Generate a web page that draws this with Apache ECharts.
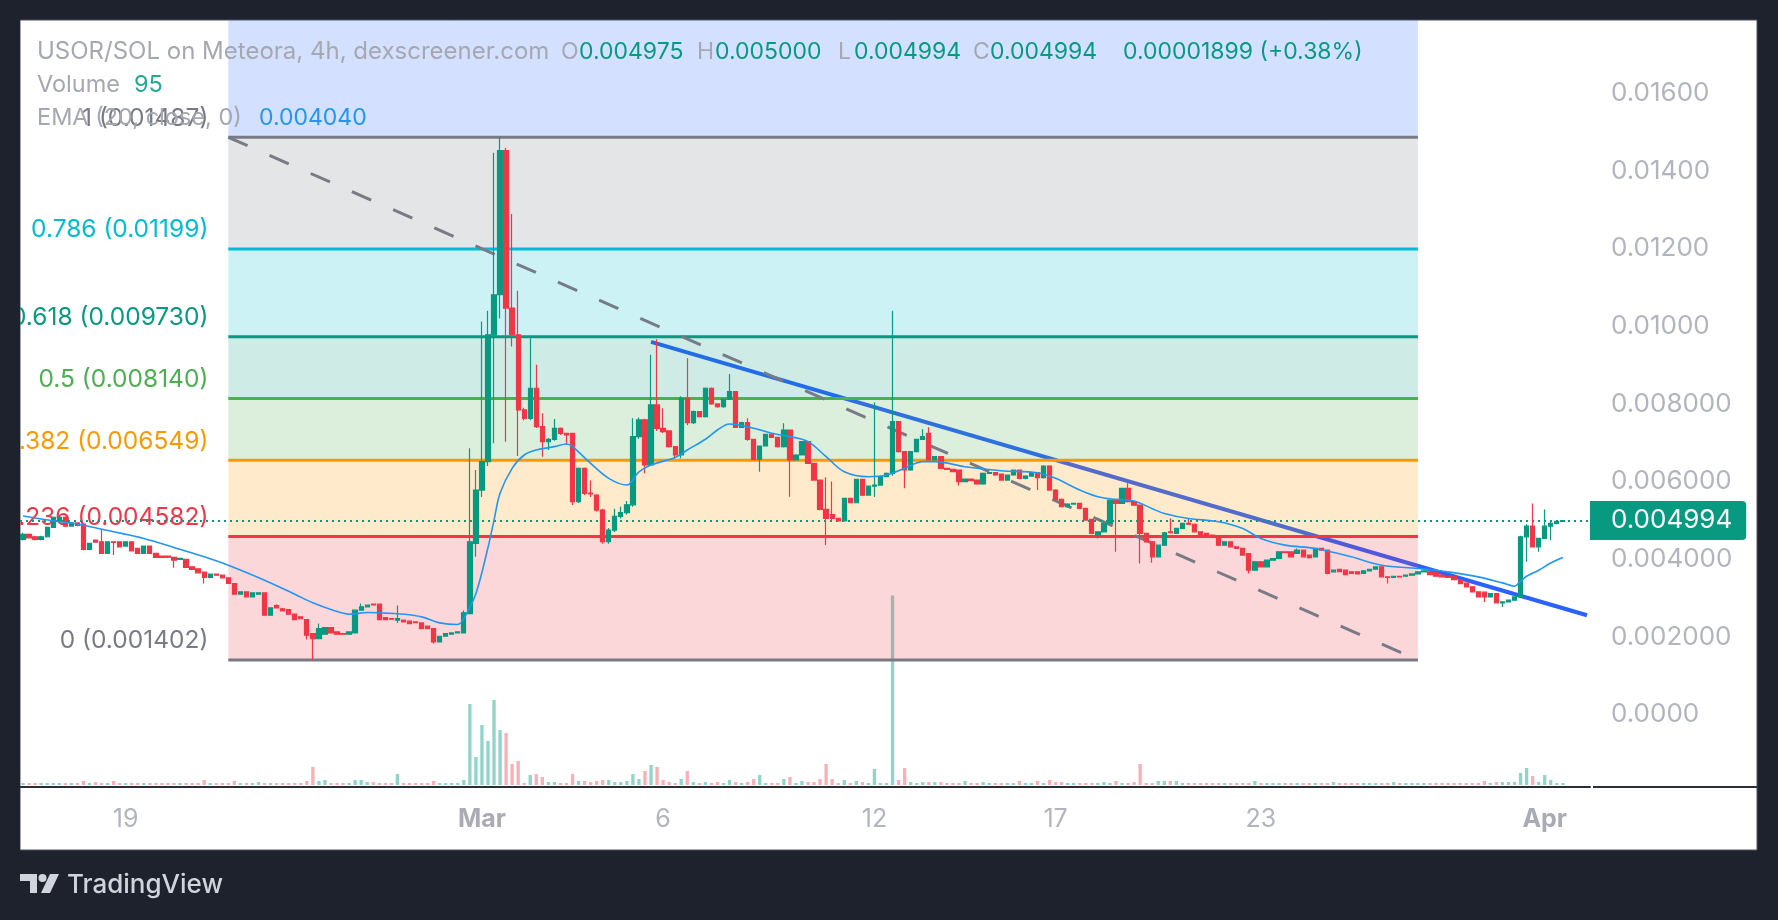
<!DOCTYPE html>
<html>
<head>
<meta charset="utf-8">
<script src="https://cdn.jsdelivr.net/npm/echarts@6/dist/echarts.min.js"></script>
<style>
  html, body { margin: 0; padding: 0; background: #1e222d; }
  #chart { width: 1778px; height: 920px; }
</style>
</head>
<body>
<div id="chart"></div>
<script>
// ---------- DATA (prices in millionths of SOL: 4994 = 0.004994) ----------
const headerTitle = 'USOR/SOL on Meteora, 4h, dexscreener.com';
const headerOHLCKeys = ['O', 'H', 'L', 'C'];
const headerOHLCValues = ['0.004975', '0.005000', '0.004994', '0.004994'];
const headerChange = '0.00001899 (+0.38%)';
const volumeLabel = 'Volume';
const volumeLast = '95';
const emaLabel = 'EMA (20, close, 0)';
const emaLast = '0.004040';
const lastPriceLabel = '0.004994';
const lastClose = 4994;

const yTickValues = [0, 2000, 4000, 6000, 8000, 10000, 12000, 14000, 16000];
const yTickLabels = ['0.0000', '0.002000', '0.004000', '0.006000', '0.008000', '0.01000', '0.01200', '0.01400', '0.01600'];

const timeTickIndex = [17, 76, 106, 141, 171, 205, 252];
const timeTickLabels = ['19', 'Mar', '6', '12', '17', '23', 'Apr'];
const monthLabels = ['Mar', 'Apr'];

const fibStartIdx = 34;
const fibEndIdx = 231;
const fibPrices = [23193, 14870, 11990, 9730, 8140, 6549, 4582, 1402];
const fibLabelsFull = ['1.618 (0.02319)', '1 (0.01487)', '0.786 (0.01199)', '0.618 (0.009730)', '0.5 (0.008140)', '0.382 (0.006549)', '0.236 (0.004582)', '0 (0.001402)'];
const fibColors = ['#2962ff', '#787b86', '#00bcd4', '#089981', '#4caf50', '#ff9800', '#f23645', '#787b86'];

const trendLine = [[104, 9600], [259, 2555]];
const fibDiagonal = [[34, 14870], [231, 1402]];

// candles: [open, close, low, high]
const candlesA = [
[4508,4637,4480,4680],[4637,4551,4530,4660],[4577,4508,4480,4600],[4508,4577,4490,4600],[4577,4818,4560,4840],
[4818,5076,4800,5100],[4964,5076,4940,5110],[5076,4852,4830,5100],[4852,4938,4840,4960],[4938,4869,4850,4950],
[4904,4250,4230,4920],[4250,4405,4230,4420],[4491,4439,4420,4500],[4448,4147,4130,4766],[4147,4448,4130,4460],
[4448,4431,4104,4460],[4448,4319,4300,4460],[4336,4448,4320,4460],[4448,4216,4200,4460],[4276,4147,4130,4290],
[4147,4336,4130,4350],[4336,4147,4130,4350],[4147,4044,4030,4160],[4078,4044,4030,4090],[4078,4050,4030,4090],
[4044,3975,3777,4060],[3992,4018,3980,4030],[3992,3786,3770,4000],[3803,3734,3720,3810],[3751,3648,3630,3760],
[3665,3528,3373,3680],[3528,3614,3510,3625],[3614,3588,3580,3620],[3588,3519,3500,3600],[3519,3373,3360,3530],
[3373,3098,3080,3380],[3098,3158,3080,3170],[3158,3029,3010,3170],[3029,3132,3010,3140],[3098,3132,3090,3140],
[3132,2556,2540,3140],[2556,2745,2540,2760],[2805,2745,2730,2830],[2720,2668,2650,2740],[2702,2582,2570,2710],
[2582,2444,2430,2600],[2513,2470,2460,2520],[2444,2040,1928,2450],[2083,1954,1402,2100],[1954,2212,1940,2341],
[2066,2238,2050,2250],[2238,2100,2090,2250],[2126,2066,2050,2140],[2083,2066,2050,2090],[2066,2126,2050,2140],
[2100,2685,2090,2700],[2685,2771,2670,2857],[2771,2814,2760,2830],[2840,2823,2810,2850],[2840,2444,2430,2850],
[2496,2444,2430,2510],[2470,2453,2440,2480],[2427,2470,2358,2805],[2427,2384,2370,2440]
];
const candlesB = [
[2401,2341,2330,2410],[2384,2367,2355,2390],[2358,2212,2200,2370],[2272,2212,2200,2280],[2212,1868,1825,2220],
[1868,2014,1855,2025],[2014,2083,2000,2095],[2066,2100,2055,2110],[2100,2126,2090,2140],[2100,2616,2090,2680],
[2599,4448,2580,6856],[4405,5781,4061,6297],[5781,6512,5600,10125],[6512,9781,6400,10400],[9781,10813,6985,14469],
[10813,14529,10200,14870],[14529,10469,7028,14600],[10469,9781,9480,12895],[9781,7845,6656,10916],[7845,7630,7580,7900],
[7630,8404,7580,9695],[8404,7415,7380,9007],[7415,7028,6641,7759],[7028,7088,6813,7120],[7088,7372,7050,7613],
[7372,7243,7200,7390],[7243,7200,6950,7260],[7243,5480,5393,7260],[5480,6340,5450,6360],[6340,5695,5650,6360],
[5700,5680,5600,6030],[5652,5265,5230,5670],[5265,4448,4400,5300],[4448,4750,4400,4800],[4750,5100,4700,5300],
[5100,5200,5050,5350],[5200,5400,5150,5500],[5400,7157,5350,7630],[7157,7587,7100,7650],[7587,6426,6211,7620],
[6426,7974,6400,9265],[7974,7372,7300,9669],[7372,7286,7250,7888],[7303,6899,6880,7320],[6899,6684,6600,6910],
[6684,8146,6600,8200],[8146,7518,7450,9179],[7518,7802,7480,7830],[7802,7673,7650,7820],[7673,8404,7650,8420],
[8404,8000,7980,8420],[8000,7931,7900,8020],[7931,8121,7900,8140],[8121,8318,8100,8774],[8318,7398,7380,8330],
[7398,7518,7380,7540],[7518,7088,7050,7630],[7088,6572,6550,7100],[6572,6916,6254,6930],[6916,7217,6900,7230],
[7217,7140,7120,7230],[7140,6899,6880,7150],[6899,7328,6880,7501],[7328,6555,5609,7340]
];
const candlesC = [
[6555,6684,6540,6700],[6684,7028,6670,7040],[7028,6469,6450,7040],[6469,6039,6020,6480],[6039,5282,5260,6050],
[5282,5050,4362,6108],[5150,5050,4980,6000],[5050,4989,4970,5060],[4989,5566,4970,5580],[5566,5454,5440,5580],
[5454,6056,5440,6070],[6056,5652,5630,6070],[5652,5884,5640,5900],[5884,5910,5600,8035],[5910,6125,5900,6140],
[6125,6211,6110,6230],[6211,7544,6150,10400],[7544,6770,6750,7560],[6770,6297,5824,6780],[6297,6770,6280,6790],
[6770,7088,6750,7100],[7088,7157,7070,7346],[7243,6555,6540,7400],[6555,6641,6540,6660],[6641,6340,6320,6660],
[6340,6314,6300,6350],[6314,6254,6240,6330],[6297,5996,5900,6310],[5996,6065,5980,6080],[6065,6022,6010,6080],
[6039,5936,5920,6050],[5936,6211,5920,6230],[6211,6228,6200,6240],[6228,6168,6150,6240],[6194,6039,6020,6210],
[6039,6168,6020,6180],[6168,6297,6150,6310],[6297,6082,6060,6310],[6082,6142,6060,6160],[6142,6228,6130,6240],
[6228,6100,5781,6240],[6100,6400,6080,6420],[6400,5781,5760,6420],[5781,5540,5520,5800],[5540,5351,5330,5560],
[5351,5420,5330,5440],[5420,5437,5400,5450],[5437,5308,5290,5450],[5308,5007,4990,5320],[5024,4663,4640,5040],
[4619,4705,4533,4720],[4705,4920,4690,4940],[4920,5523,4900,5540],[5523,5437,4189,5540],[5437,5824,5420,5840],
[5824,5480,5460,5953],[5480,5394,5380,5500],[5394,4662,3888,5410],[4662,4447,4430,4680],[4447,4060,3905,4460],
[4060,4361,4040,4380],[4361,4680,4340,4700],[4705,4680,4660,5049],[4662,4791,4650,4810]
];
const candlesD = [
[4791,4920,4780,4940],[4920,4900,4880,5049],[4900,4705,4690,4920],[4705,4619,4600,4720],[4662,4619,4600,4680],
[4619,4576,4560,4630],[4576,4361,4340,4590],[4361,4447,4350,4460],[4447,4318,4300,4460],[4318,4276,4260,4330],
[4276,4103,4090,4290],[4146,3716,3630,4160],[3716,3931,3700,3950],[3931,3802,3790,3950],[3802,3974,3790,3990],
[3974,4017,3960,4030],[4017,4189,4000,4200],[4189,4170,4150,4200],[4189,4060,4040,4200],[4146,4232,4130,4276],
[4232,4060,4040,4240],[4103,4040,4020,4110],[4060,4276,4040,4290],[4276,4232,4220,4290],[4232,3630,3610,4240],
[3673,3716,3660,3730],[3740,3680,3670,3750],[3716,3600,3590,3730],[3673,3630,3620,3680],[3673,3620,3610,3680],
[3630,3700,3620,3710],[3700,3740,3690,3750],[3740,3802,3730,3815],[3802,3544,3530,3815],[3544,3527,3372,3560],
[3527,3560,3515,3570],[3560,3544,3535,3570],[3560,3587,3550,3595],[3587,3620,3580,3630],[3620,3673,3610,3680],
[3673,3700,3665,3710],[3673,3600,3590,3680],[3650,3560,3550,3660],[3587,3544,3535,3595],[3560,3530,3520,3570],
[3544,3470,3460,3550],[3470,3372,3360,3480],[3380,3286,3270,3390],[3286,3157,3140,3295],[3157,3028,3010,3165],
[3150,3028,2899,3160],[3028,3114,3015,3125],[3114,2874,2860,3120],[2874,2899,2770,2910],[2899,2942,2890,2950],
[2942,3028,2935,3040],[3028,4576,3020,4600],[4576,4850,3931,4900],[4850,4318,4300,5437],[4318,4533,4189,4545],
[4533,4850,4520,5281],[4850,4920,4490,5007],[4920,4975,4900,4990],[4975,4994,4975,5000]
];

const volumes = [
95,95,95,95,95,95,95,95,95,95, 190,95,140,95,95,190,95,95,95,95,
95,95,95,95,95,95,95,95,95,95, 240,95,95,95,95,190,95,95,95,140,
95,95,95,95,95,95,95,190,855,190, 240,95,95,95,95,240,240,140,140,95,
95,95,520,95,95,95,95,95,190,95, 95,95,95,240,3850,1330,2850,2090,4040,2610,
2470,1000,1140,95,475,520,380,140,140,95, 95,520,190,190,140,190,240,240,140,140,
190,520,285,665,950,855,240,140,95,285, 665,140,95,140,95,140,95,240,140,95,
140,285,475,95,95,95,285,380,95,190, 140,140,285,1000,285,95,240,95,190,140,
95,760,95,95,9000,240,810,140,95,140, 140,140,140,95,95,95,190,95,95,140,
95,95,95,95,95,190,95,95,190,95, 240,140,140,95,95,95,95,95,95,140,
95,190,95,95,140,1000,95,95,190,190, 190,190,95,95,95,95,95,95,95,95,
95,95,95,95,190,95,95,95,95,95, 95,95,95,95,95,95,95,140,95,95,
95,95,95,95,95,95,95,140,95,95, 95,95,95,95,95,95,95,95,95,95,
95,95,190,95,140,140,140,140,570,810, 430,140,475,240,95,95
];

// EMA(20): [bar index, value]
const emaPoints = [
[0,5110],[5,4990],[9,4904],[15,4706],[20,4534],[25,4302],[30,4061],[34,3846],[40,3459],[45,3098],
[48,2874],[51,2702],[54,2582],[57,2625],[60,2610],[63,2582],[66,2513],[69,2358],[72,2315],[73,2470],
[75,3115],[77,4300],[78,5000],[79,5700],[81,6340],[83,6684],[85,6813],[88,6899],[90,6968],[91,6900],
[94,6469],[97,6082],[100,5910],[102,6250],[104,6426],[108,6620],[110,6813],[113,7090],[115,7329],[117,7484],
[121,7372],[124,7243],[127,7157],[130,7028],[133,6641],[136,6254],[140,6125],[143,6168],[146,6340],[149,6512],
[151,6512],[156,6383],[162,6280],[168,6228],[171,6082],[175,5781],[178,5609],[181,5540],[184,5500],[187,5300],
[189,5178],[193,5049],[198,4963],[202,4791],[205,4533],[209,4361],[214,4276],[220,4060],[225,3845],[231,3759],
[236,3673],[241,3544],[245,3389],[247,3303],[248,3430],[249,3560],[251,3716],[253,3900],[255,4040]
];

// ---------- BUILD ----------
const candles = candlesA.concat(candlesB, candlesC, candlesD);
const SLOTS = 260;
const categories = Array.from({ length: SLOTS }, (_, i) => 'b' + i);

const UP = '#089981', DOWN = '#f23645';
const volData = volumes.map((v, i) => ({
  value: v,
  itemStyle: { color: candles[i][1] >= candles[i][0] ? 'rgba(34,171,148,0.5)' : 'rgba(242,54,69,0.4)' }
}));

function rgba(hex, a) {
  const n = parseInt(hex.slice(1), 16);
  return 'rgba(' + (n >> 16 & 255) + ',' + (n >> 8 & 255) + ',' + (n & 255) + ',' + a + ')';
}

const PX_PER_UNIT = 0.03881;
const Y0 = 714.4;
const GRID_TOP = 20, GRID_BOTTOM_Y = 787;
const yMax = (Y0 - GRID_TOP) / PX_PER_UNIT;
const yMin = (Y0 - GRID_BOTTOM_Y) / PX_PER_UNIT;

const FONT = 'Inter, "Noto Sans", sans-serif';
const GRAY = '#a5a8b0';
const AXIS_GRAY = '#b2b5be';

const fillRows = fibPrices.slice(0, -1).map((p, i) => [fibStartIdx, fibEndIdx, p, fibPrices[i + 1], i]);
const lineRows = fibPrices.map((p, i) => [fibStartIdx, fibEndIdx, p, i]);

const chart = echarts.init(document.getElementById('chart'), null, { renderer: 'canvas' });

function hText(x, y, text, fill, size) {
  return { type: 'text', z: 60, x: x, y: y,
    style: { text: text, fill: fill, fontSize: size, fontFamily: FONT, verticalAlign: 'middle' } };
}

const option = {
  animation: false,
  backgroundColor: '#1e222d',
  grid: [
    { left: 20, right: 188, top: GRID_TOP, height: GRID_BOTTOM_Y - GRID_TOP },
    { left: 20, right: 188, bottom: 135, height: 200 }
  ],
  xAxis: [
    {
      type: 'category', data: categories, gridIndex: 0, boundaryGap: true,
      axisLine: { show: true, onZero: false, lineStyle: { color: '#2a2e39', width: 2 } },
      axisTick: { show: false },
      splitLine: { show: false },
      axisLabel: {
        interval: (i) => timeTickIndex.indexOf(i) >= 0,
        formatter: (v, i) => {
          const t = timeTickLabels[timeTickIndex.indexOf(i)];
          return monthLabels.indexOf(t) >= 0 ? '{m|' + t + '}' : t;
        },
        color: AXIS_GRAY, fontSize: 25, fontFamily: FONT, margin: 20,
        rich: { m: { fontWeight: 'bold', fontSize: 25, fontFamily: FONT, color: '#a9acb5' } }
      }
    },
    {
      type: 'category', data: categories, gridIndex: 1, boundaryGap: true, show: false
    }
  ],
  yAxis: [
    {
      type: 'value', gridIndex: 0, position: 'right', min: yMin, max: yMax,
      axisLine: { show: false }, axisTick: { show: false }, splitLine: { show: false },
      axisLabel: {
        customValues: yTickValues,
        formatter: (v) => yTickLabels[yTickValues.indexOf(Math.round(v))] || '',
        color: AXIS_GRAY, fontSize: 26, fontFamily: FONT, margin: 21, align: 'left'
      }
    },
    { type: 'value', gridIndex: 1, min: 0, max: 9500, show: false, splitLine: { show: false } }
  ],
  series: [
    {
      type: 'bar', name: 'Volume', xAxisIndex: 1, yAxisIndex: 1, data: volData,
      barWidth: '55%', z: 1, silent: true
    },
    {
      type: 'line', name: 'trend', data: trendLine, z: 1, symbol: 'none', silent: true,
      lineStyle: { color: '#2962ff', width: 4 }
    },
    {
      type: 'custom', name: 'fibFill', z: 2, silent: true, clip: true,
      data: fillRows, encode: { x: [0, 1], y: [2, 3] },
      renderItem: (params, api) => {
        const a = api.coord([api.value(0), api.value(2)]);
        const b = api.coord([api.value(1), api.value(3)]);
        const cs = params.coordSys;
        const shape = echarts.graphic.clipRectByRect(
          { x: a[0], y: a[1], width: b[0] - a[0], height: b[1] - a[1] },
          { x: cs.x, y: cs.y, width: cs.width, height: cs.height });
        if (!shape) return null;
        return { type: 'rect', shape: shape, style: { fill: rgba(fibColors[api.value(4)], 0.2) } };
      }
    },
    {
      type: 'custom', name: 'fibLines', z: 3, silent: true, clip: true,
      data: lineRows, encode: { x: [0, 1], y: 2 },
      renderItem: (params, api) => {
        const i = api.value(3);
        const a = api.coord([api.value(0), api.value(2)]);
        const b = api.coord([api.value(1), api.value(2)]);
        return {
          type: 'group',
          children: [
            { type: 'line', shape: { x1: a[0], y1: a[1], x2: b[0], y2: b[1] },
              style: { stroke: fibColors[i], lineWidth: 3 } },
            { type: 'text', x: a[0] - 20, y: a[1] - 19,
              style: { text: fibLabelsFull[i], fill: fibColors[i], fontSize: 24.5, fontFamily: FONT,
                       align: 'right', verticalAlign: 'middle' } }
          ]
        };
      }
    },
    {
      type: 'line', name: 'fibTrend', data: fibDiagonal, z: 3, symbol: 'none', silent: true,
      lineStyle: { color: '#787b86', width: 3, type: [21, 24] }
    },
    {
      type: 'candlestick', name: 'USOR/SOL', data: candles, z: 5, barWidth: '80%',
      itemStyle: { color: UP, color0: DOWN, borderColor: UP, borderColor0: DOWN, borderWidth: 1.2 },
      markLine: {
        silent: true, symbol: ['none', 'none'], animation: false,
        lineStyle: { color: UP, type: [2, 4], width: 2 },
        label: {
          show: true, position: 'end', distance: 0, formatter: lastPriceLabel,
          color: '#ffffff', backgroundColor: UP, padding: [7, 14, 6, 21],
          fontSize: 26, fontFamily: FONT, borderRadius: [0, 4, 4, 0]
        },
        emphasis: { disabled: true },
        data: [{ yAxis: lastClose }]
      }
    },
    {
      type: 'line', name: 'EMA', data: emaPoints, z: 6, symbol: 'none', smooth: 0.35, silent: true,
      lineStyle: { color: '#2196f3', width: 1.6 }
    }
  ],
  graphic: [
    { type: 'rect', z: -100, shape: { x: 20, y: 20, width: 1737, height: 830 },
      style: { fill: '#ffffff', stroke: '#50535e', lineWidth: 1 } },
    { type: 'rect', z: 100, shape: { x: 0, y: 20, width: 20, height: 830 }, style: { fill: '#1e222d' } },
    { type: 'line', z: 50, shape: { x1: 1593, y1: 787, x2: 1757, y2: 787 },
      style: { stroke: '#2a2e39', lineWidth: 2 } },
    // legend header
    hText(37, 52, headerTitle, GRAY, 24),
    hText(561, 52, headerOHLCKeys[0], GRAY, 23),
    hText(579, 52, headerOHLCValues[0], UP, 23),
    hText(697, 52, headerOHLCKeys[1], GRAY, 23),
    hText(715, 52, headerOHLCValues[1], UP, 23),
    hText(838, 52, headerOHLCKeys[2], GRAY, 23),
    hText(854, 52, headerOHLCValues[2], UP, 23),
    hText(973, 52, headerOHLCKeys[3], GRAY, 23),
    hText(990, 52, headerOHLCValues[3], UP, 23),
    hText(1123, 52, headerChange, UP, 23),
    hText(37, 85, volumeLabel, GRAY, 23.5),
    hText(134, 85, volumeLast, '#22ab94', 23.5),
    hText(37, 118, emaLabel, GRAY, 23.5),
    hText(259, 118, emaLast, '#2196f3', 23),
    // TradingView logo
    { type: 'polygon', z: 60, shape: { points: [[20, 874], [37, 874], [37, 893], [30, 893], [30, 881], [20, 881]] }, style: { fill: '#d1d4dc' } },
    { type: 'circle', z: 60, shape: { cx: 42.5, cy: 878, r: 4 }, style: { fill: '#d1d4dc' } },
    { type: 'polygon', z: 60, shape: { points: [[50, 874], [59, 874], [50, 893], [41, 893]] }, style: { fill: '#d1d4dc' } },
    { type: 'text', z: 60, x: 67, y: 885, style: { text: 'TradingView', fill: '#d1d4dc', fontSize: 26, fontWeight: 500, fontFamily: FONT, verticalAlign: 'middle' } }
  ]
};

chart.setOption(option);
</script>
</body>
</html>
